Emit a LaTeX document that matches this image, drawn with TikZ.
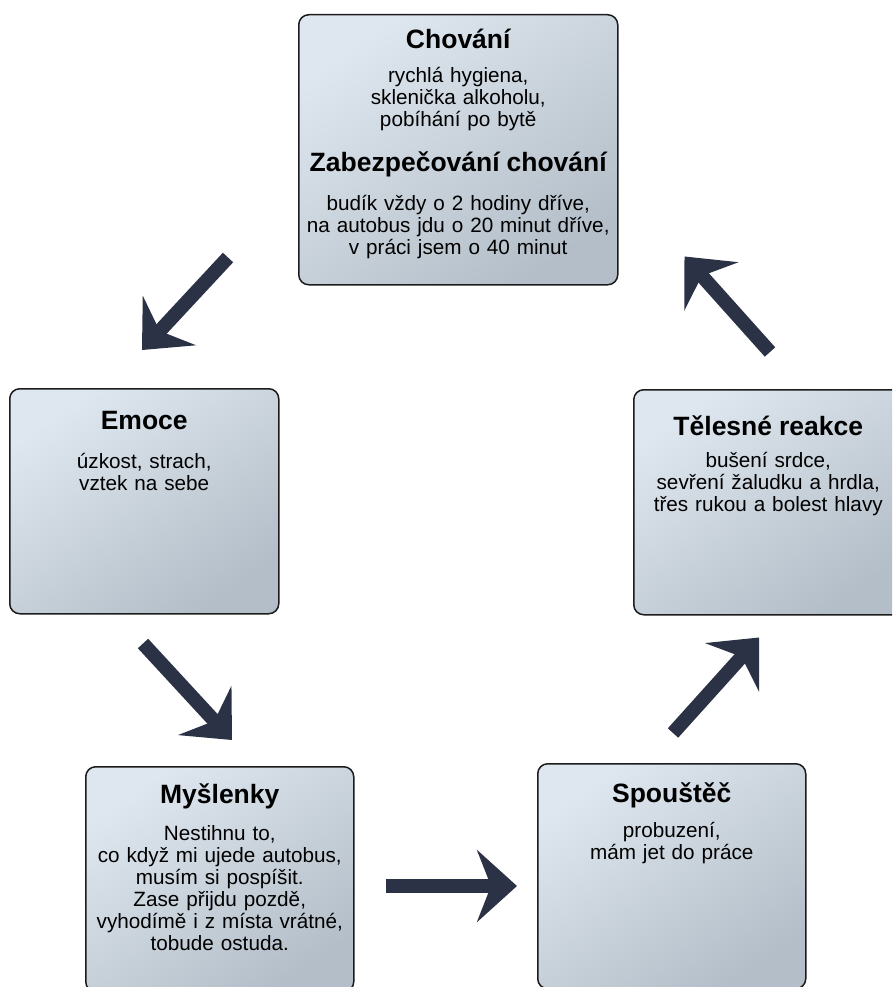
\documentclass[tikz,border=0pt]{standalone}
\usepackage{fontspec}
\setmainfont{Liberation Sans}
\usepackage{tikz}
\usetikzlibrary{positioning,arrows.meta}
\definecolor{boxlt}{HTML}{DEE7EF}
\definecolor{boxdk}{HTML}{B4BEC8}
\definecolor{edge}{HTML}{1C1C1C}
\definecolor{arrc}{HTML}{2C3245}
\newcommand{\bodyfont}{\fontsize{20.7}{22}\selectfont}
\newcommand{\boxtitle}[1]{{\fontsize{26.5}{28}\selectfont\bfseries #1}}
\tikzset{
  box/.style={draw=edge, line width=1.5pt, rounded corners=10pt, top color=boxlt, bottom color=boxdk, shading angle=35,
    align=center, font=\bodyfont, inner xsep=0pt, inner ysep=0pt, anchor=north west},
  bigarr/.style={-{Stealth[length=40pt, width=72pt, inset=14pt]}, line width=14pt, draw=arrc},
}
\begin{document}
\begin{tikzpicture}[x=1pt, y=-1pt]
  \path[use as bounding box, clip] (0,0) rectangle (892,987);
  % top box
  \node[box, text width=319pt, text height=34pt, text depth=236pt] (chov) at (298,14) {\boxtitle{Chování}\\[12pt]
     rychlá hygiena,\\ sklenička alkoholu,\\ pobíhání po bytě\\[20pt]
     \boxtitle{Zabezpečování chování}\\[17pt]
     budík vždy o 2 hodiny dříve,\\ na autobus jdu o 20 minut dříve,\\ v práci jsem o 40 minut};
  % side boxes
  \node[box, text width=269pt, text height=41pt, text depth=184pt] (emo) at (9,388) {\boxtitle{Emoce}\\[17pt]
     úzkost, strach,\\ vztek na sebe};
  \node[box, text width=269pt, text height=46pt, text depth=179pt] (tel) at (633,389) {\boxtitle{Tělesné reakce}\\[10pt]
     bušení srdce,\\ sevření žaludku a hrdla,\\ třes rukou a bolest hlavy};
  % bottom boxes
  \node[box, text width=268pt, text height=37pt, text depth=188pt] (mys) at (85,766) {\boxtitle{Myšlenky}\\[15pt]
     Nestihnu to,\\ co když mi ujede autobus,\\ musím si pospíšit.\\ Zase přijdu pozdě,\\ vyhodímě i z místa vrátné,\\ tobude ostuda.};
  \node[box, text width=268pt, text height=39pt, text depth=186pt] (spo) at (537,763) {\boxtitle{Spouštěč}\\[13pt]
     probuzení,\\ mám jet do práce};
  % cycle arrows
  \draw[bigarr] ([shift={(-70,-28)}]chov.south west) -- ([shift={(133,-38)}]emo.north west);
  \draw[bigarr] ([shift={(134,29)}]emo.south west) -- ([shift={(147,-26)}]mys.north west);
  \draw[bigarr] ([shift={(31,120)}]mys.north east) -- ([shift={(-20,123)}]spo.north west);
  \draw[bigarr] ([shift={(136,-30)}]spo.north west) -- ([shift={(126,22)}]tel.south west);
  \draw[bigarr] ([shift={(137,-37)}]tel.north west) -- ([shift={(66,-29)}]chov.south east);
\end{tikzpicture}
\end{document}
